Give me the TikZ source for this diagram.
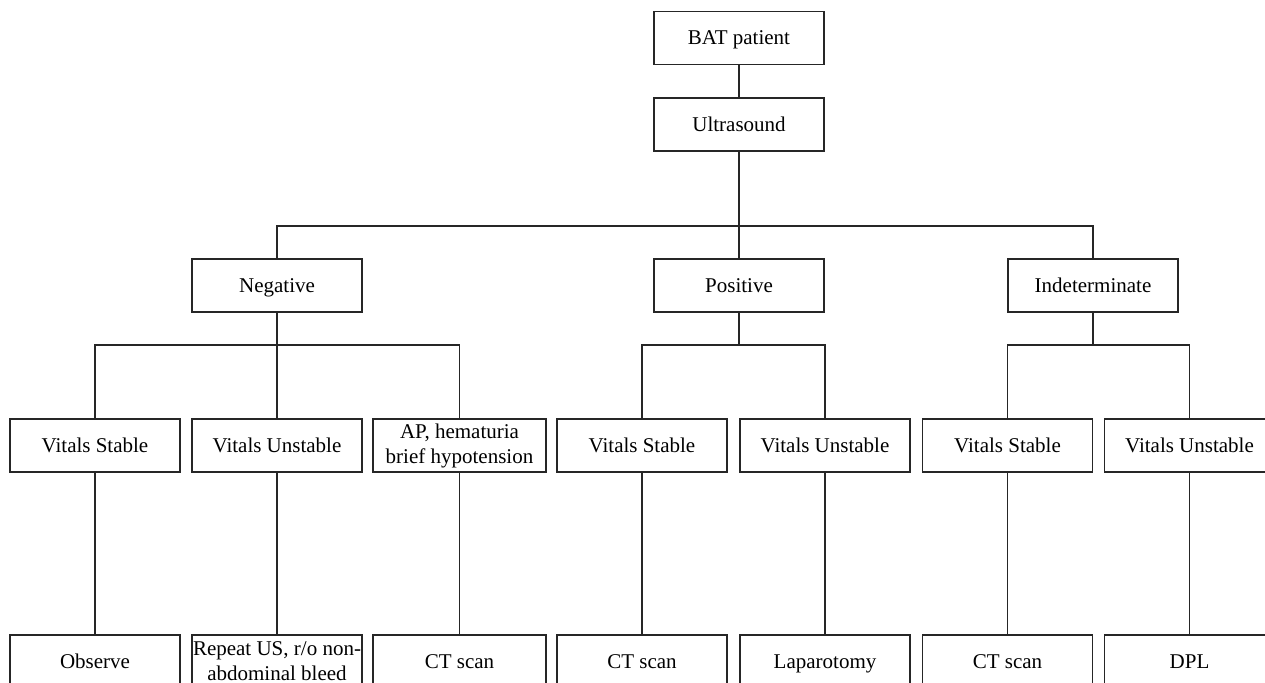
\documentclass[tikz,border=0pt]{standalone}
\usepackage{fontspec}
\setmainfont{Liberation Serif}
\begin{document}
\begin{tikzpicture}[x=0.5pt,y=-0.5pt,
  boxbase/.style={draw=black!85, line width=0.75pt, minimum width=85pt, minimum height=26.5pt, inner sep=0pt, align=center, font=\fontsize{10.5}{12.5}\selectfont},
  box/.style={boxbase, text height=8.8pt, text depth=2pt},
  box2/.style={boxbase},
  conn/.style={draw=black!85, line width=0.75pt}]
\useasboundingbox (0,0) rectangle (1265,683);
\clip (0,0) rectangle (1265,683);
\fill[white] (0,0) rectangle (1265,683);
% level 0/1
\node[box] (bat) at (739,38) {BAT patient};
\node[box] (us) at (739,124.5) {Ultrasound};
% level 2
\node[box] (neg) at (277,285.5) {Negative};
\node[box] (pos) at (739,285.5) {Positive};
\node[box] (ind) at (1093,285.5) {Indeterminate};
% level 3
\node[box] (n1) at (95,445.5) {Vitals Stable};
\node[box] (n2) at (277,445.5) {Vitals Unstable};
\node[box2, minimum width=86.5pt] (n3) at (459.5,445.5) {AP, hematuria\\brief hypotension};
\node[box] (p1) at (642,445.5) {Vitals Stable};
\node[box] (p2) at (825,445.5) {Vitals Unstable};
\node[box] (i1) at (1007.5,445.5) {Vitals Stable};
\node[box] (i2) at (1189.5,445.5) {Vitals Unstable};
% level 4
\node[box] (n1b) at (95,661.5) {Observe};
\node[box2] (n2b) at (277,661.5) {Repeat US, r/o non-\\abdominal bleed};
\node[box, minimum width=86.5pt] (n3b) at (459.5,661.5) {CT scan};
\node[box] (p1b) at (642,661.5) {CT scan};
\node[box] (p2b) at (825,661.5) {Laparotomy};
\node[box] (i1b) at (1007.5,661.5) {CT scan};
\node[box] (i2b) at (1189.5,661.5) {DPL};
% junctions
\coordinate (j0) at (739,226);
\coordinate (jn) at (277,345);
\coordinate (jp) at (739,345);
\coordinate (ji) at (1093,345);
% connectors
\draw[conn] (bat) -- (us);
\draw[conn] (us) -- (j0);
\draw[conn] (neg.north) |- (j0) -| (ind.north);
\draw[conn] (j0) -- (pos.north);
\draw[conn] (neg) -- (jn);
\draw[conn] (n1.north) |- (jn) -| (n3.north);
\draw[conn] (jn) -- (n2.north);
\draw[conn] (pos) -- (jp);
\draw[conn] (p1.north) |- (jp) -| (p2.north);
\draw[conn] (ind) -- (ji);
\draw[conn] (i1.north) |- (ji) -| (i2.north);
\draw[conn] (n1) -- (n1b);
\draw[conn] (n2) -- (n2b);
\draw[conn] (n3) -- (n3b);
\draw[conn] (p1) -- (p1b);
\draw[conn] (p2) -- (p2b);
\draw[conn] (i1) -- (i1b);
\draw[conn] (i2) -- (i2b);
\end{tikzpicture}
\end{document}
